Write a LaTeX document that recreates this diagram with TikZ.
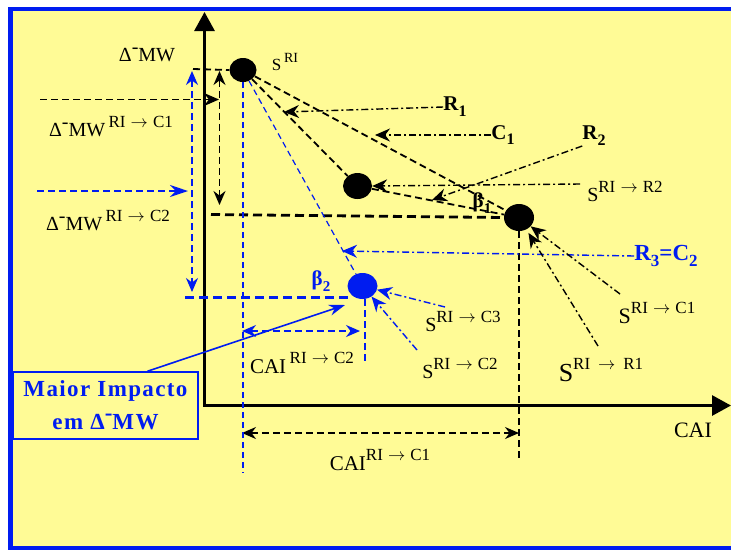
\documentclass[tikz,border=0pt]{standalone}
\usepackage{fontspec}
\setmainfont{Liberation Serif}
\newfontfamily\boxfont[LetterSpace=6]{Liberation Serif}
\usepackage{tikz}
\usetikzlibrary{
  arrows.meta,
  positioning,
  shapes.geometric
}
\definecolor{PaleYellow}{RGB}{255,251,150}
\definecolor{FrameBlue}{RGB}{0,28,240}
\newcommand{\up}[2][17]{\raisebox{.45em}{\fontsize{#1}{#1}\selectfont #2}}
\newcommand{\dn}[2][16]{\raisebox{-.28em}{\fontsize{#1}{#1}\selectfont #2}}
\newcommand{\dmw}{Δ\raisebox{.42em}{-}MW}
\newcommand{\toarr}{\hspace{.3em}$\rightarrow$\hspace{.3em}}
\tikzset{
  axisline/.style={line width=3pt,{Triangle[length=19pt,width=20pt]}-{Triangle[length=19pt,width=20pt]}},
  blackdot/.style={ellipse,fill=black,inner sep=0pt,minimum width=27pt,minimum height=24pt},
  bluedot/.style={blackdot,fill=FrameBlue},
  dashline/.style={line width=1.8pt,dash pattern=on 7pt off 4pt},
  thickdash/.style={line width=2.8pt,dash pattern=on 9pt off 5pt},
  thindash/.style={line width=1.2pt,dash pattern=on 6pt off 4pt},
  dashdot/.style={line width=1.4pt,dash pattern=on 7pt off 3pt on 2pt off 3pt},
  endtip/.style={-{Stealth[length=15pt,width=13pt]}},
  twotips/.style={{Stealth[length=14pt,width=12pt]}-{Stealth[length=14pt,width=12pt]}},
  lbl/.style={inner sep=0pt}
}

\begin{document}
\begin{tikzpicture}[x=1pt,y=-1pt]
\useasboundingbox (0,0) rectangle (731,550);
\clip (0,0) rectangle (731,550);
\draw[FrameBlue,line width=4.4pt,fill=PaleYellow] (10.5,9) rectangle (745,548);

% axes
\coordinate (origin) at (204.5,405.5);
\draw[axisline] (204.5,12) -- (origin) -- (731,405.5);
\node[lbl,font=\fontsize{22}{22}\selectfont] (lCAI) at (693,430) {CAI};

% points
\node[blackdot] (pRI) at (243,70) {};
\node[blackdot,minimum width=29pt,minimum height=26pt] (pR2) at (357.5,186) {};
\node[blackdot,minimum width=30pt,minimum height=27pt] (pC1) at (519,217.5) {};
\node[bluedot,minimum width=30pt,minimum height=26pt] (pC2) at (362.5,286) {};
\node[lbl,font=\fontsize{17}{17}\selectfont] (lSRI) at (285,62) {S\,\up[14]{RI}};

% black dashed
\draw[dashline] (pRI) -- (pC1);
\draw[dashline] (pRI) -- (pR2);
\draw[dashline] (pR2) -- (pC1);
\coordinate (lvl1) at (211,214.5);
\draw[thickdash] (lvl1) -- (pC1.west);
\coordinate (topl) at (193,69);
\draw[dashline] (topl) -- (pRI.west);
\coordinate (cai1) at (519,458);
\draw[dashline] (pC1.south) -- (cai1);
\coordinate (d1a) at (219.5,71);
\coordinate (d1b) at (219.5,205);
\draw[dashline,twotips] (d1a) -- (d1b);
\coordinate (m1a) at (40,99.5);
\coordinate (m1b) at (219,99.5);
\draw[dashline,endtip] (m1a) -- (m1b);
\coordinate (c1a) at (242,433);
\coordinate (c1b) at (519,433);
\draw[dashline,twotips] (c1a) -- (c1b);

% blue dashed
\coordinate (rib) at (243,473);
\draw[FrameBlue,thindash] (pRI.south) -- (rib);
\draw[FrameBlue,thindash] (pRI) -- (pC2);
\coordinate (d2a) at (192,71);
\coordinate (d2b) at (192,292);
\draw[FrameBlue,dashline,twotips] (d2a) -- (d2b);
\coordinate (lvl2) at (185,297.5);
\draw[FrameBlue,thickdash] (lvl2) -- (pC2.south west |- lvl2);
\coordinate (c2v) at (365,361);
\draw[FrameBlue,dashline] (pC2.south -| c2v) -- (c2v);
\coordinate (c2a) at (242,331);
\coordinate (c2b) at (360,331);
\draw[FrameBlue,dashline,twotips] (c2a) -- (c2b);
\coordinate (m2a) at (37,191);
\coordinate (m2b) at (188,191);
\draw[FrameBlue,dashline,-{Stealth[length=18pt,width=12pt]}] (m2a) -- (m2b);

% labels left
\node[lbl,font=\fontsize{20}{20}\selectfont] (lDMW) at (147,55) {\dmw};
\node[lbl,font=\fontsize{20}{20}\selectfont] (lDC1) at (111,127) {\dmw\,\up{RI\toarr C1}};
\node[lbl,font=\fontsize{20}{20}\selectfont] (lDC2) at (108,221) {\dmw\,\up{RI\toarr C2}};

% routes
\node[lbl,font=\fontsize{21}{21}\selectfont\bfseries] (lR1) at (455,107) {R\dn{1}};
\coordinate (tR1) at (284,112);
\draw[dashdot,endtip] (lR1.west) -- (tR1);
\node[lbl,font=\fontsize{21}{21}\selectfont\bfseries] (lC1) at (503,135) {C\dn{1}};
\coordinate (tC1) at (375,135);
\draw[dashdot,endtip] (lC1.west) -- (tC1);
\node[lbl,font=\fontsize{21}{21}\selectfont\bfseries] (lR2) at (594,136) {R\dn{2}};
\coordinate (tR2) at (432,200);
\draw[dashdot,endtip] (lR2.south west) -- (tR2);
\node[lbl,font=\fontsize{20}{20}\selectfont] (lSR2) at (625,191) {S\up{RI\toarr R2}};
\coordinate (sR2) at (580,184);
\draw[dashdot,endtip] (sR2) -- (pR2.east);
\node[lbl,font=\fontsize{23}{23}\selectfont\bfseries,text=FrameBlue] (lR3) at (666,256) {R\dn[17]{3}=C\dn[17]{2}};
\coordinate (tR3) at (342,251);
\draw[FrameBlue,dashdot,endtip] (lR3.west) -- (tR3);
\node[lbl,font=\fontsize{22}{22}\selectfont] (lSC1) at (657,313) {S\up{RI\toarr C1}};
\coordinate (sC1) at (620,294);
\draw[dashdot,endtip] (sC1) -- (pC1);
\node[lbl,font=\fontsize{26}{26}\selectfont] (lSR1) at (601,370) {S\up{RI\,\toarr\,R1}};
\coordinate (sR1) at (598,346);
\draw[dashdot,endtip,shorten >=4pt] (sR1) -- (pC1);
\node[lbl,font=\fontsize{20}{20}\selectfont] (lSC3) at (463,321) {S\up{RI\toarr C3}};
\coordinate (sC3) at (445,307);
\draw[FrameBlue,dashdot,endtip] (sC3) -- (pC2);
\node[lbl,font=\fontsize{20}{20}\selectfont] (lSC2) at (460,368) {S\up{RI\toarr C2}};
\coordinate (sC2) at (417,350);
\draw[FrameBlue,dashdot,endtip] (sC2) -- (pC2);

% angles and distances
\node[lbl,font=\fontsize{21}{21}\selectfont\bfseries] (lB1) at (482,203) {β\dn[15]{1}};
\node[lbl,font=\fontsize{21}{21}\selectfont\bfseries,text=FrameBlue] (lB2) at (321,281) {β\dn[15]{2}};
\node[lbl,font=\fontsize{21}{21}\selectfont] (lCC2) at (302,363) {CAI\,\up{RI\toarr C2}};
\node[lbl,font=\fontsize{21}{21}\selectfont] (lCC1) at (380,460) {CAI\up{RI\toarr C1}};

% note box
\node[draw=FrameBlue,line width=1.6pt,minimum width=185pt,minimum height=67pt,inner sep=0pt,
  align=center,text=FrameBlue,font=\boxfont\bfseries\fontsize{23}{33}\selectfont] (box) at (105.5,405.5)
  {Maior Impacto\\em \dmw};
\coordinate (imp) at (345,305);
\draw[FrameBlue,line width=1.6pt,-{Stealth[length=16pt,width=11pt]}] ([xshift=42pt]box.north) -- (imp);
\end{tikzpicture}
\end{document}
